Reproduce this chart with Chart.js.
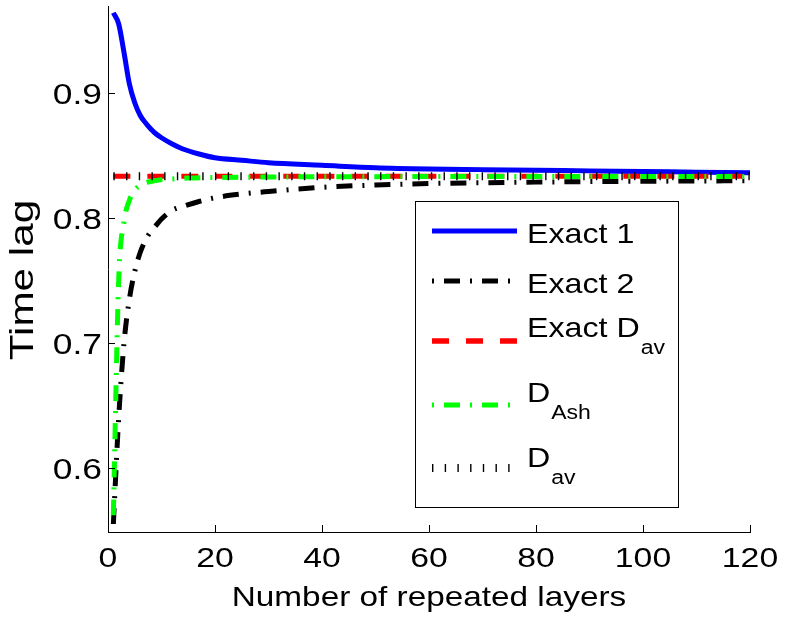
<!DOCTYPE html>
<html lang="en">
<head>
<meta charset="UTF-8">
<title>Time lag vs number of repeated layers</title>
<script src="https://cdn.jsdelivr.net/npm/chart.js"></script>
<style>
  html, body { margin: 0; padding: 0; background: #fff; }
  canvas { display: block; }
</style>
</head>
<body>
<canvas id="chart" width="785" height="620"></canvas>
<script>
// values
const layers1 = [1, 2, 3, 4, 5, 6, 7, 8, 9, 10, 12, 14, 17, 20, 25, 30, 40, 50, 60, 70, 80, 90, 100, 110, 120];
const exact1  = [0.964, 0.955, 0.932, 0.907, 0.892, 0.882, 0.876, 0.871, 0.867, 0.864, 0.859, 0.855, 0.851, 0.848, 0.846, 0.844, 0.842, 0.840, 0.839, 0.8385, 0.838, 0.8375, 0.837, 0.8365, 0.836];

const layers2 = [1, 2, 3, 4, 5, 6, 7, 8, 9, 10, 12, 14, 17, 20, 25, 30, 40, 50, 60, 70, 80, 90, 100, 110, 120];
const exact2  = [0.555, 0.640, 0.700, 0.735, 0.757, 0.772, 0.782, 0.789, 0.794, 0.799, 0.806, 0.809, 0.813, 0.816, 0.819, 0.821, 0.8243, 0.8262, 0.8274, 0.828, 0.8285, 0.8289, 0.8292, 0.8294, 0.8296];

const layersAsh = [1, 2, 3, 4, 5, 6, 7, 8, 10, 12, 15, 20, 30, 50, 80, 120];
const dAsh      = [0.562, 0.750, 0.797, 0.814, 0.822, 0.826, 0.828, 0.829, 0.8305, 0.831, 0.8318, 0.8322, 0.8326, 0.8329, 0.833, 0.8331];

const layersAv = [1, 120];
const exactDav = [0.8333, 0.8333];
const dAv      = [0.8333, 0.8333];

const xTicks = [0, 20, 40, 60, 80, 100, 120];
const yTicks = [0.6, 0.7, 0.8, 0.9];

const seriesNames = ['Exact 1', 'Exact 2', 'Exact D', 'D', 'D'];
const seriesSubs  = ['', '', 'av', 'Ash', 'av'];

const FONT = "'Liberation Sans', Arial, Helvetica, sans-serif";

function pts(xs, ys) { return xs.map((x, i) => ({x: x, y: ys[i]})); }

// text in the figure is drawn a bit wide, so stretch it horizontally
function wideText(ctx, str, x, y, size, sx, align) {
  ctx.save();
  ctx.font = size + 'px ' + FONT;
  ctx.textAlign = align || 'left';
  ctx.textBaseline = 'alphabetic';
  ctx.fillStyle = '#000';
  ctx.translate(x, y);
  ctx.scale(sx, 1);
  ctx.fillText(str, 0, 0);
  const w = ctx.measureText(str).width * sx;
  ctx.restore();
  return w;
}

const axesPlugin = {
  id: 'matlabAxes',
  afterDraw(chart) {
    const ctx = chart.ctx, a = chart.chartArea;
    const xs = chart.scales.x, ys = chart.scales.y;
    // inward tick marks
    ctx.save();
    ctx.strokeStyle = '#000';
    ctx.lineWidth = 1;
    ctx.beginPath();
    xs.ticks.forEach(t => {
      const px = Math.round(xs.getPixelForValue(t.value)) + 0.5;
      ctx.moveTo(px, a.bottom); ctx.lineTo(px, a.bottom - 7);
    });
    ys.ticks.forEach(t => {
      const py = Math.round(ys.getPixelForValue(t.value)) + 0.5;
      ctx.moveTo(a.left, py); ctx.lineTo(a.left + 7, py);
    });
    ctx.stroke();
    ctx.restore();

    // tick labels
    xs.ticks.forEach(t => {
      wideText(ctx, String(t.value), xs.getPixelForValue(t.value), a.bottom + 35, 27, 1.25, 'center');
    });
    ys.ticks.forEach(t => {
      wideText(ctx, t.value.toFixed(1), a.left - 6, ys.getPixelForValue(t.value) + 11, 29, 1.22, 'right');
    });

    // axis titles
    wideText(ctx, 'Number of repeated layers', (a.left + a.right) / 2, 606, 28, 1.19, 'center');
    ctx.save();
    ctx.translate(33, 280);
    ctx.rotate(-Math.PI / 2);
    wideText(ctx, 'Time lag', 0, 0, 33, 1.28, 'center');
    ctx.restore();
  }
};

const legendPlugin = {
  id: 'subLegend',
  afterDraw(chart) {
    const ctx = chart.ctx;
    const bx = 415, by = 201, bw = 263, bh = 306;
    const lineY = [231, 281, 341, 405, 468];
    const baseY = [243, 293, 337, 402, 467];
    ctx.save();
    ctx.fillStyle = '#fff';
    ctx.fillRect(bx, by, bw, bh);
    ctx.strokeStyle = '#000';
    ctx.lineWidth = 1;
    ctx.strokeRect(bx + 0.5, by + 0.5, bw, bh);
    chart.data.datasets.forEach((ds, i) => {
      ctx.save();
      ctx.strokeStyle = ds.borderColor;
      ctx.lineWidth = ds.legendWidth;
      ctx.setLineDash(ds.borderDash || []);
      ctx.lineDashOffset = ds.legendOffset || 0;
      ctx.lineCap = 'butt';
      ctx.beginPath();
      ctx.moveTo(432, lineY[i]);
      ctx.lineTo(517, lineY[i]);
      ctx.stroke();
      ctx.restore();
      const w = wideText(ctx, seriesNames[i], 527, baseY[i], 28, 1.15);
      if (seriesSubs[i]) wideText(ctx, seriesSubs[i], 527 + w + 1, baseY[i] + 17, 20, 1.15);
    });
    ctx.restore();
  }
};

const dashDot = [16, 10, 2, 10];

new Chart(document.getElementById('chart'), {
  type: 'line',
  data: {
    datasets: [
      {label: 'Exact 1', data: pts(layers1, exact1), borderColor: '#0000ff', borderWidth: 5, legendWidth: 5, order: 4},
      {label: 'Exact 2', data: pts(layers2, exact2), borderColor: '#000000', borderWidth: 5, legendWidth: 5, borderDash: dashDot, legendOffset: 26, order: 3},
      {label: 'Exact Dav', data: pts(layersAv, exactDav), borderColor: '#ff0000', borderWidth: 5, legendWidth: 5.5, borderDash: [17, 17], order: 2},
      {label: 'DAsh', data: pts(layersAsh, dAsh), borderColor: '#00ff00', borderWidth: 5, legendWidth: 5, borderDash: dashDot, legendOffset: 26, order: 1},
      {label: 'Dav', data: pts(layersAv, dAv), borderColor: '#000000', borderWidth: 8, legendWidth: 8, borderDash: [1.4, 11.3], order: 0}
    ]
  },
  options: {
    responsive: false,
    animation: false,
    devicePixelRatio: 1,
    layout: {padding: {top: 6, right: 35, left: 0, bottom: 0}},
    elements: {
      point: {radius: 0},
      line: {cubicInterpolationMode: 'monotone', borderCapStyle: 'butt', fill: false}
    },
    plugins: {legend: {display: false}, tooltip: {enabled: false}},
    scales: {
      x: {
        type: 'linear', min: 0, max: 120,
        afterBuildTicks: s => { s.ticks = xTicks.map(v => ({value: v})); },
        afterFit: s => { s.height = 88; s.paddingLeft = 0; s.paddingRight = 0; },
        ticks: {display: false},
        grid: {display: true, drawOnChartArea: false, drawTicks: false},
        border: {display: true, color: '#000', width: 1}
      },
      y: {
        type: 'linear', min: 0.5486, max: 0.9694,
        afterBuildTicks: s => { s.ticks = yTicks.map(v => ({value: v})); },
        afterFit: s => { s.width = 108; s.paddingTop = 0; s.paddingBottom = 0; },
        ticks: {display: false},
        grid: {display: true, drawOnChartArea: false, drawTicks: false},
        border: {display: true, color: '#000', width: 1}
      }
    }
  },
  plugins: [axesPlugin, legendPlugin]
});
</script>
</body>
</html>
